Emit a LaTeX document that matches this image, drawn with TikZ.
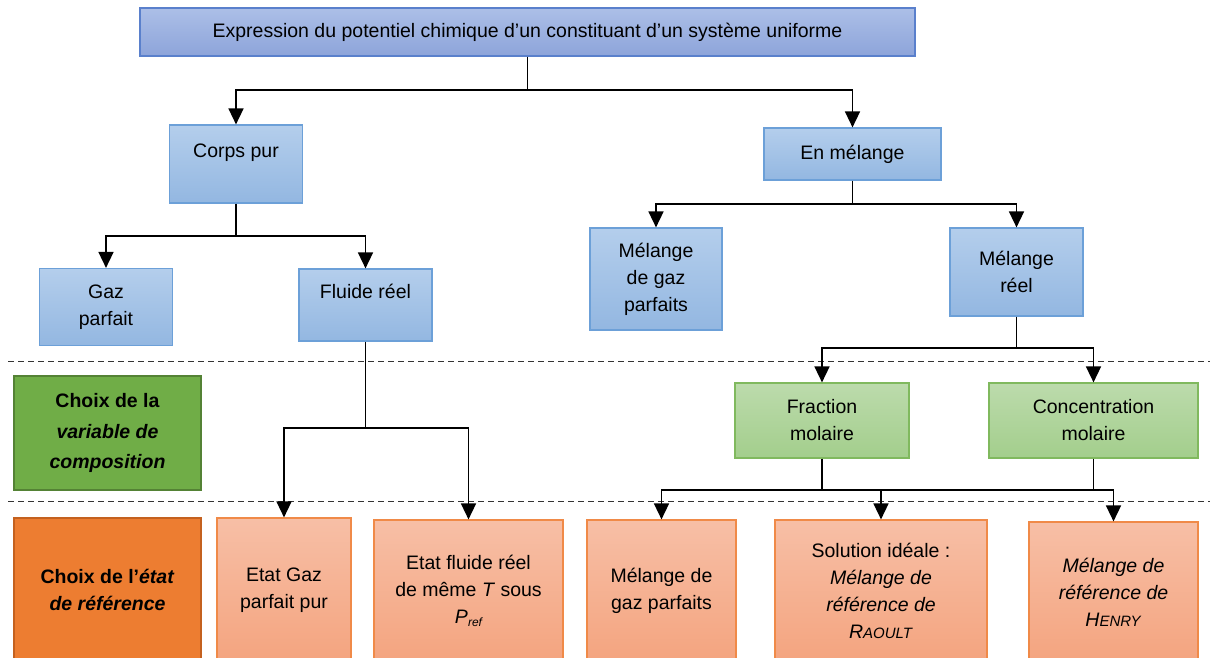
\documentclass[tikz,border=0pt]{standalone}
\usepackage{fontspec}
\setmainfont{Liberation Sans}
\usetikzlibrary{arrows.meta}

\definecolor{titrehaut}{HTML}{ACBFE7}
\definecolor{titrebas}{HTML}{8DA4DA}
\definecolor{titrebord}{HTML}{5A80CC}
\definecolor{bleuhaut}{HTML}{B4CEEC}
\definecolor{bleubas}{HTML}{93B7E1}
\definecolor{bleubord}{HTML}{6CA0D8}
\definecolor{verthaut}{HTML}{BCDBAC}
\definecolor{vertbas}{HTML}{A3CE8C}
\definecolor{vertbord}{HTML}{80B95E}
\definecolor{vertfonce}{HTML}{70AD47}
\definecolor{vertfoncebord}{HTML}{548235}
\definecolor{orhaut}{HTML}{F7BFA6}
\definecolor{orbas}{HTML}{F4A47F}
\definecolor{orbord}{HTML}{F08A48}
\definecolor{orfonce}{HTML}{ED7D31}
\definecolor{orfoncebord}{HTML}{C4611F}

\newcommand{\petitecap}[2]{#1{\fontsize{15}{15}\selectfont #2}}

\tikzset{
  boite/.style={line width=1.2pt, align=center, inner sep=0pt,
    font=\fontsize{19.5}{27}\selectfont},
  bleu/.style={boite, draw=bleubord, top color=bleuhaut, bottom color=bleubas},
  titre/.style={boite, draw=titrebord, top color=titrehaut, bottom color=titrebas},
  vert/.style={boite, draw=vertbord, top color=verthaut, bottom color=vertbas},
  orange/.style={boite, draw=orbord, top color=orhaut, bottom color=orbas},
  etiqvert/.style={boite, draw=vertfoncebord, fill=vertfonce, font=\fontsize{19.5}{30.5}\selectfont\bfseries},
  etiqorange/.style={boite, draw=orfoncebord, fill=orfonce, font=\fontsize{19.5}{27}\selectfont\bfseries},
  fleche/.style={line width=1.6pt, -{Triangle[width=15pt,length=16pt]}},
  trait/.style={line width=1.6pt},
  separation/.style={line width=1pt, dash pattern=on 6pt off 4pt, black!80}
}

\begin{document}
\begin{tikzpicture}[x=1pt, y=-1pt]
  \useasboundingbox (0,0) rectangle (1210,657);
  \clip (0,0) rectangle (1210,657);

  % separations
  \draw[separation] (8,361) -- (1210,361);
  \draw[separation] (8,501) -- (1210,501);

  % premier niveau
  \node[titre, minimum width=775pt, minimum height=48pt] (expr) at (527.5,32)
    {Expression du potentiel chimique d’un constituant d’un système uniforme};

  \node[bleu, minimum width=133pt, minimum height=78pt] (corps) at (236,164) {Corps pur\\~};
  \node[bleu, minimum width=177pt, minimum height=52pt] (melange) at (852.5,154) {En mélange};

  \node[bleu, minimum width=133pt, minimum height=77pt] (gazp) at (106,307) {Gaz\\parfait};
  \node[bleu, minimum width=133pt, minimum height=72pt] (fluide) at (365.5,305) {Fluide réel\\~};
  \node[bleu, minimum width=132pt, minimum height=102pt] (mgp) at (656,279) {Mélange\\de gaz\\parfaits};
  \node[bleu, minimum width=133pt, minimum height=88pt] (mreel) at (1016.5,272) {Mélange\\réel};

  % variable de composition
  \node[etiqvert, minimum width=187pt, minimum height=114pt] (compo) at (107.5,433)
    {Choix de la\\\textit{variable de}\\\textit{composition}};
  \node[vert, minimum width=174pt, minimum height=75pt] (frac) at (822,420.5) {Fraction\\molaire};
  \node[vert, minimum width=209pt, minimum height=75pt] (conc) at (1093.5,420.5) {Concentration\\molaire};

  % etat de reference
  \node[etiqorange, minimum width=187pt, minimum height=144pt] (etatref) at (107.5,590)
    {Choix de l’\textit{état}\\\textit{de référence}};
  \node[orange, minimum width=134pt, minimum height=144pt] (egp) at (284,590) {Etat Gaz\\parfait pur};
  \node[orange, minimum width=189pt, minimum height=142pt] (efr) at (468.5,591)
    {Etat fluide réel\\de même \textit{T} sous\\\textit{P}\raisebox{-0.35ex}{\fontsize{12}{12}\selectfont\itshape ref}};
  \node[orange, minimum width=149pt, minimum height=142pt] (omgp) at (661.5,591) {Mélange de\\gaz parfaits};
  \node[orange, minimum width=212pt, minimum height=142pt] (ideale) at (881,591)
    {Solution idéale :\\\textit{Mélange de}\\\textit{référence de}\\\textit{\petitecap{R}{AOULT}}};
  \node[orange, minimum width=169pt, minimum height=140pt] (henry) at (1113.5,592)
    {\textit{Mélange de}\\\textit{référence de}\\\textit{\petitecap{H}{ENRY}}};

  % points de jonction
  \coordinate (jexpr) at (527.5,90);
  \coordinate (jcorps) at (236,236);
  \coordinate (jmel) at (852.5,204);
  \coordinate (jreel) at (1016.5,348);
  \coordinate (jfluide) at (365.5,428);
  \coordinate (jfrac) at (822,490);
  \coordinate (jconc) at (1093.5,490);

  % connecteurs
  \draw[trait] (expr.south) -- (jexpr);
  \draw[fleche] (jexpr) -| (corps.north);
  \draw[fleche] (jexpr) -| (melange.north);

  \draw[trait] (corps.south) -- (jcorps);
  \draw[fleche] (jcorps) -| (gazp.north);
  \draw[fleche] (jcorps) -| (fluide.north);

  \draw[trait] (melange.south) -- (jmel);
  \draw[fleche] (jmel) -| (mgp.north);
  \draw[fleche] (jmel) -| (mreel.north);

  \draw[trait] (mreel.south) -- (jreel);
  \draw[fleche] (jreel) -| (frac.north);
  \draw[fleche] (jreel) -| (conc.north);

  \draw[trait] (fluide.south) -- (jfluide);
  \draw[fleche] (jfluide) -| (egp.north);
  \draw[fleche] (jfluide) -| (efr.north);

  \draw[trait] (frac.south) -- (jfrac);
  \draw[trait] (conc.south) -- (jconc);
  \draw[fleche] (jfrac) -| (omgp.north);
  \draw[fleche] (jfrac) -| (ideale.north);
  \draw[fleche] (jfrac) -| (henry.north);
\end{tikzpicture}
\end{document}
